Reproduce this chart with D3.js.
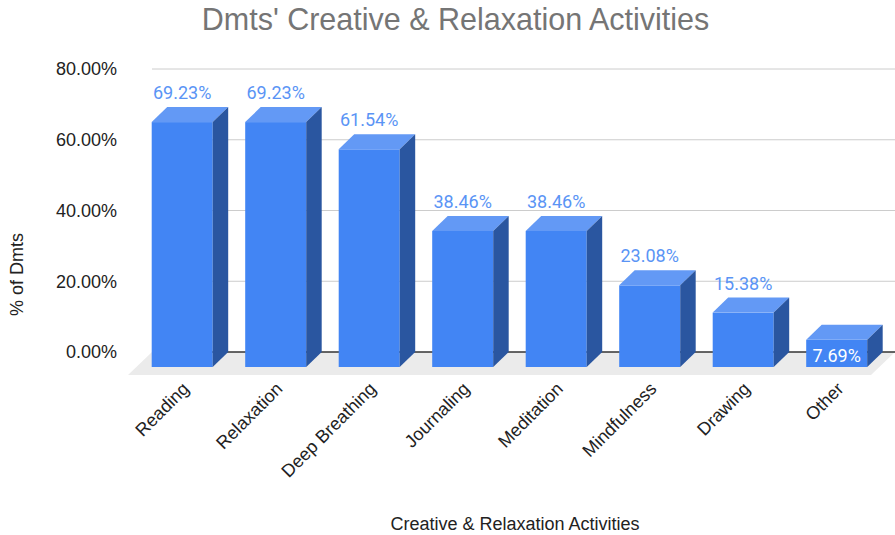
<!DOCTYPE html>
<html>
<head>
<meta charset="utf-8">
<script src="https://cdn.jsdelivr.net/npm/d3@7"></script>
<style>
  html, body { margin: 0; padding: 0; background: #ffffff; }
  svg { display: block; }
</style>
</head>
<body>
<div id="chart"></div>
<script>
// Share of respondents for each creative / relaxation activity (%)
const categories = ["Reading", "Relaxation", "Deep Breathing", "Journaling", "Meditation", "Mindfulness", "Drawing", "Other"];
const values = [69.23, 69.23, 61.54, 38.46, 38.46, 23.08, 15.38, 7.69];
const yTicks = [0, 20, 40, 60, 80];

const chartTitle = "Dmts' Creative & Relaxation Activities";
const xTitle = "Creative & Relaxation Activities";
const yTitle = "% of Dmts";

const W = 895, H = 535;
const depthX = 15.5, depthY = 15;   // 3D extrusion offset of each column

const svg = d3.select("#chart").append("svg")
  .attr("width", W).attr("height", H);

// y scale lives on the back wall of the 3D box
const y = d3.scaleLinear().domain([0, 80]).range([352, 69]);

// x scale positions the front face of each column
const x = d3.scaleBand()
  .domain(categories)
  .range([151.7, 867.2])
  .paddingInner(0.3476)
  .paddingOuter(0);

const fmt = v => v.toFixed(2) + "%";

// Gridlines on the back wall
const grid = svg.append("g");
grid.selectAll("line").data(yTicks.filter(t => t > 0)).join("line")
  .attr("x1", 152).attr("x2", W)
  .attr("y1", d => y(d)).attr("y2", d => y(d))
  .attr("stroke", "#cccccc").attr("stroke-width", 1);

// Floor of the 3D box
const floorFront = y(0) + 23, floorDX = 24;
svg.append("polygon")
  .attr("points", [
    [152 - floorDX, floorFront],
    [W - floorDX, floorFront],
    [W, y(0)],
    [152, y(0)]
  ].map(p => p.join(",")).join(" "))
  .attr("fill", "#ebebeb");

// Zero baseline
svg.append("line")
  .attr("x1", 152).attr("x2", W)
  .attr("y1", y(0)).attr("y2", y(0))
  .attr("stroke", "#333333").attr("stroke-width", 1.6);

// Y axis tick labels
svg.append("g").selectAll("text").data(yTicks).join("text")
  .attr("x", 117).attr("y", d => y(d))
  .attr("dy", "0.36em")
  .attr("text-anchor", "end")
  .attr("font-family", "'Liberation Sans', Arial, sans-serif")
  .attr("font-size", 18)
  .attr("fill", "#222222")
  .text(d => fmt(d));

// Columns: front, top and side faces
const bars = svg.append("g").selectAll("g").data(categories.map((c, i) => ({ c, v: values[i] }))).join("g");

const fx0 = d => x(d.c);
const fx1 = d => x(d.c) + x.bandwidth();
const fTop = d => y(d.v) + depthY;
const fBot = () => y(0) + depthY;
const pts = arr => arr.map(p => p.join(",")).join(" ");

bars.append("rect")
  .attr("x", fx0).attr("y", fTop)
  .attr("width", x.bandwidth())
  .attr("height", d => fBot() - fTop(d))
  .attr("fill", "#4285f4");

bars.append("polygon")
  .attr("points", d => pts([
    [fx0(d), fTop(d)],
    [fx0(d) + depthX, fTop(d) - depthY],
    [fx1(d) + depthX, fTop(d) - depthY],
    [fx1(d), fTop(d)]
  ]))
  .attr("fill", "#6399f5");

bars.append("polygon")
  .attr("points", d => pts([
    [fx1(d), fTop(d)],
    [fx1(d) + depthX, fTop(d) - depthY],
    [fx1(d) + depthX, fBot() - depthY],
    [fx1(d), fBot()]
  ]))
  .attr("fill", "#2a56a0");

// Value labels: above the column, or inside it when the column is short
bars.append("text")
  .attr("x", d => fx0(d) + x.bandwidth() / 2)
  .attr("y", d => d.v < 10 ? fTop(d) + 22 : fTop(d) - 23)
  .attr("text-anchor", "middle")
  .attr("font-family", "Roboto, sans-serif")
  .attr("font-size", 18)
  .attr("fill", d => d.v < 10 ? "#ffffff" : "#5a94f5")
  .text(d => fmt(d.v));

// Category labels, rotated 45°
svg.append("g").selectAll("text").data(categories).join("text")
  .attr("transform", d => `translate(${x(d) + x.bandwidth() / 2 + 8},390) rotate(-45)`)
  .attr("text-anchor", "end")
  .attr("font-family", "'Liberation Sans', Arial, sans-serif")
  .attr("font-size", 18)
  .attr("fill", "#222222")
  .text(d => d);

// Titles
svg.append("text")
  .attr("x", 455.5).attr("y", 30)
  .attr("text-anchor", "middle")
  .attr("font-family", "'Liberation Sans', Arial, sans-serif")
  .attr("font-size", 30.5)
  .attr("fill", "#757575")
  .text(chartTitle);

svg.append("text")
  .attr("x", 515).attr("y", 530)
  .attr("text-anchor", "middle")
  .attr("font-family", "'Liberation Sans', Arial, sans-serif")
  .attr("font-size", 18)
  .attr("fill", "#222222")
  .text(xTitle);

svg.append("text")
  .attr("transform", "translate(23,274.5) rotate(-90)")
  .attr("text-anchor", "middle")
  .attr("font-family", "'Liberation Sans', Arial, sans-serif")
  .attr("font-size", 18)
  .attr("fill", "#222222")
  .text(yTitle);
</script>
</body>
</html>
